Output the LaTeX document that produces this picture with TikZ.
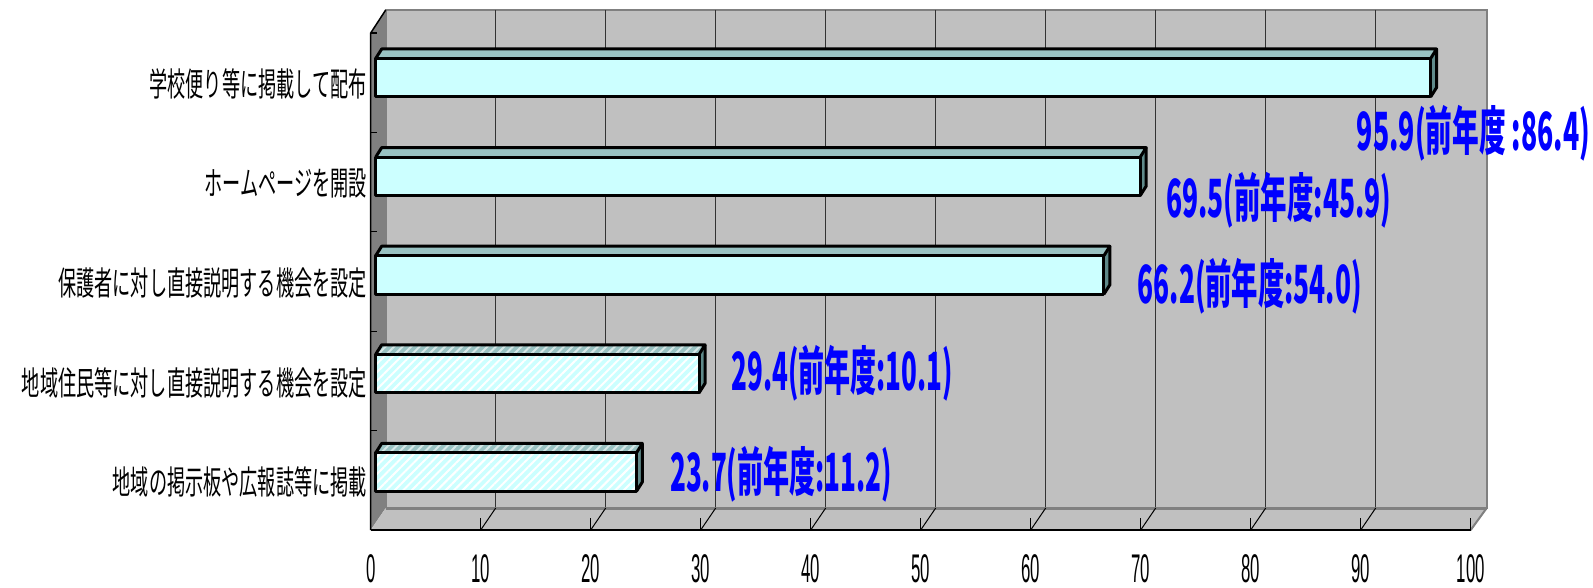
\documentclass[tikz,border=0pt]{standalone}
\usepackage{fontspec}
\usepackage{graphicx}
\usetikzlibrary{patterns.meta}
\newfontfamily\catfont[FakeStretch=0.55]{Noto Sans CJK JP}
\newfontfamily\numfont[FakeStretch=0.42]{Liberation Sans}
\newfontfamily\valfont{Noto Sans CJK JP}
\definecolor{wallc}{HTML}{C0C0C0}
\definecolor{sidec}{HTML}{808080}
\definecolor{barfront}{HTML}{CCFFFF}
\definecolor{bartop}{HTML}{99C2C2}
\definecolor{barside}{HTML}{5F8A8A}
\definecolor{valblue}{HTML}{0000FF}
\tikzset{
  barline/.style={draw=black, line width=3pt, line join=round},
  hatch/.style={postaction={pattern={Lines[angle=45,distance=6pt,line width=2pt]}, pattern color=white}},
  hatchtop/.style={postaction={pattern={Lines[angle=45,distance=6pt,line width=2pt]}, pattern color=white!60!bartop}},
  grid/.style={draw=black!80, line width=1pt},
  catlabel/.style={anchor=east, inner sep=0pt, font=\catfont\fontsize{33}{33}\selectfont},
  axlabel/.style={inner sep=0pt, font=\numfont\fontsize{40}{40}\selectfont},
  vallabel/.style={anchor=west, inner sep=0pt, text=valblue}
}
\newcommand{\drawbar}[3]{%
  \pgfmathsetmacro\xr{375.7+11*#2}
  \pgfmathsetmacro\yt{#1}
  \pgfmathsetmacro\yb{#1+38.5}
  \pgfmathsetmacro\ytt{#1-9.5}
  \pgfmathsetmacro\ybb{#1+38.5-9.5}
  \pgfmathsetmacro\xrr{\xr+6}
  \ifnum#3=1
    \path[fill=barfront, hatch] (375.7,\yt) rectangle (\xr,\yb);
    \path[fill=bartop, hatchtop] (375.7,\yt) -- (381.7,\ytt) -- (\xrr,\ytt) -- (\xr,\yt) -- cycle;
  \else
    \path[fill=barfront] (375.7,\yt) rectangle (\xr,\yb);
    \path[fill=bartop] (375.7,\yt) -- (381.7,\ytt) -- (\xrr,\ytt) -- (\xr,\yt) -- cycle;
  \fi
  \path[fill=barside] (\xr,\yt) -- (\xrr,\ytt) -- (\xrr,\ybb) -- (\xr,\yb) -- cycle;
  \draw[barline] (375.7,\yt) rectangle (\xr,\yb);
  \draw[barline] (375.7,\yt) -- (381.7,\ytt) -- (\xrr,\ytt) -- (\xr,\yt);
  \draw[barline] (\xrr,\ytt) -- (\xrr,\ybb) -- (\xr,\yb);
}
\begin{document}
\begin{tikzpicture}[x=1pt,y=-1pt]
\useasboundingbox[fill=white] (0,0) rectangle (1593,588);
% back wall
\path[fill=wallc, draw=sidec, line width=2pt] (385.7,10) rectangle (1486.7,508);
\foreach \k in {1,...,9} {
  \draw[grid] ({385.7+110*\k},10) -- ({385.7+110*\k},508);
}
% left wall
\path[fill=sidec] (370.7,33) -- (385.7,10) -- (385.7,508) -- (370.7,530) -- cycle;
% floor
\path[fill=wallc] (370.7,530) -- (385.7,508) -- (1486.7,508) -- (1470.7,530) -- cycle;
\draw[sidec, line width=3pt] (385.7,508) -- (1486.7,508);
\draw[sidec, line width=2pt] (1470.7,530) -- (1486.7,508);
% floor diagonals and ticks
\foreach \k in {1,...,9} {
  \draw[black, line width=1pt] ({370.7+110*\k},530) -- ({385.7+110*\k},508);
}
\foreach \k in {0,...,10} {
  \draw[black, line width=1.3pt] ({370.7+110*\k},518) -- ({370.7+110*\k},530);
}
% axes lines
\draw[black, line width=2pt] (370.7,530) -- (1470.7,530);
\draw[black, line width=1.5pt] (385.7,10) -- (370.7,33) -- (370.7,530);
\foreach \k in {0,...,5} {
  \draw[black, line width=1.3pt] (370.7,{33+99.4*\k}) -- (376.7,{33+99.4*\k});
}
% bars
\drawbar{58.5}{95.9}{0}
\drawbar{157.1}{69.5}{0}
\drawbar{255.7}{66.2}{0}
\drawbar{354.3}{29.4}{1}
\drawbar{452.9}{23.7}{1}
% value labels
\node[vallabel] (v1) at (1356.7,133) {\resizebox*{233pt}{56pt}{\valfont\bfseries 95.9(前年度 :86.4)}};
\node[vallabel] (v2) at (1166,200) {\resizebox*{225pt}{56pt}{\valfont\bfseries 69.5(前年度:45.9)}};
\node[vallabel] (v3) at (1137.5,286.7) {\resizebox*{224pt}{56pt}{\valfont\bfseries 66.2(前年度:54.0)}};
\node[vallabel] (v4) at (731.7,373.3) {\resizebox*{221pt}{56pt}{\valfont\bfseries 29.4(前年度:10.1)}};
\node[vallabel] (v5) at (670,474) {\resizebox*{221.7pt}{56pt}{\valfont\bfseries 23.7(前年度:11.2)}};
% category labels
\node[catlabel] (c1) at (367,84) {学校便り等に掲載して配布};
\node[catlabel] (c2) at (367,183.5) {ホームページを開設};
\node[catlabel] (c3) at (367,283) {保護者に対し直接説明する機会を設定};
\node[catlabel] (c4) at (367,382.5) {地域住民等に対し直接説明する機会を設定};
\node[catlabel] (c5) at (367,482) {地域の掲示板や広報誌等に掲載};
% axis labels
\foreach \k in {0,...,10} {
  \pgfmathtruncatemacro\lab{10*\k}
  \node[axlabel] (a\k) at ({370.7+110*\k},569) {\lab};
}
\end{tikzpicture}
\end{document}
